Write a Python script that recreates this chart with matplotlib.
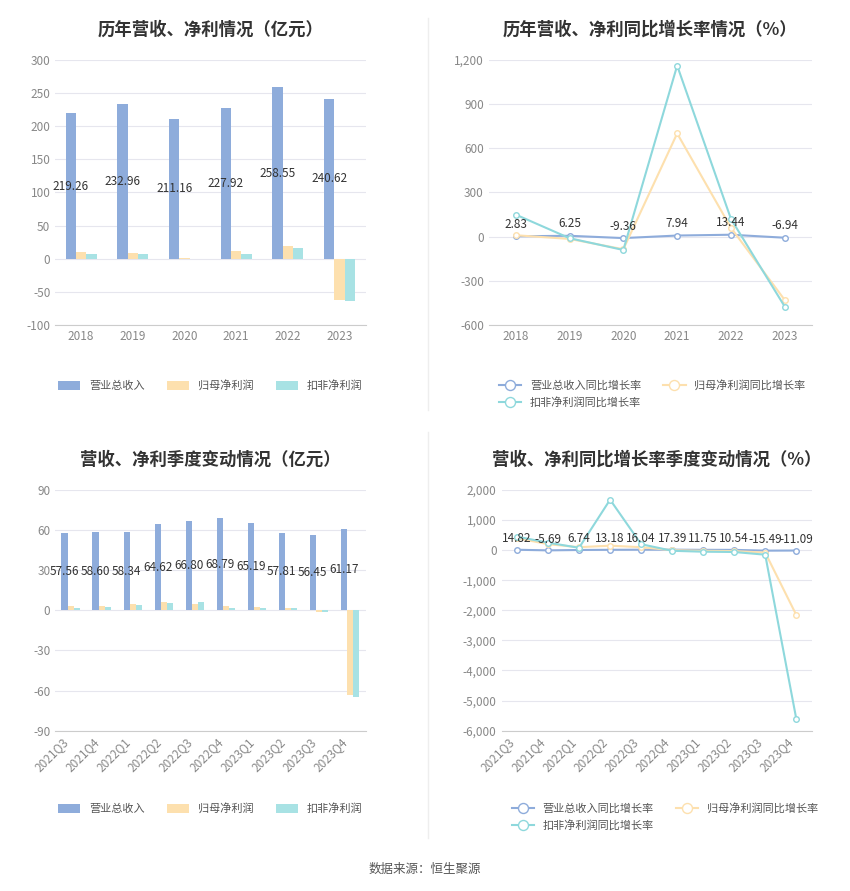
import matplotlib
matplotlib.use("Agg")
import matplotlib.pyplot as plt
from matplotlib.ticker import FuncFormatter

plt.rcParams['font.family'] = ['Noto Sans CJK SC', 'DejaVu Sans']
plt.rcParams['axes.unicode_minus'] = False

years = ["2018", "2019", "2020", "2021", "2022", "2023"]
rev = [219.26, 232.96, 211.16, 227.92, 258.55, 240.62]
net = [10.5, 8.5, 1.2, 12.0, 19.0, -62.0]
deduct = [7.0, 7.0, 0.5, 7.0, 17.0, -64.0]

rev_g = [2.83, 6.25, -9.36, 7.94, 13.44, -6.94]
net_g = [10, -15, -85, 700, 60, -430]
deduct_g = [150, -10, -90, 1160, 120, -475]

quarters = ["2021Q3", "2021Q4", "2022Q1", "2022Q2", "2022Q3", "2022Q4",
            "2023Q1", "2023Q2", "2023Q3", "2023Q4"]
q_rev = [57.56, 58.60, 58.34, 64.62, 66.80, 68.79, 65.19, 57.81, 56.45, 61.17]
q_net = [3.0, 3.5, 4.5, 6.5, 5.0, 3.0, 2.5, 2.0, -1.0, -63.0]
q_deduct = [2.0, 2.5, 4.0, 5.5, 6.5, 2.0, 2.0, 2.0, -1.5, -65.0]

q_rev_g = [14.82, -5.69, 6.74, 13.18, 16.04, 17.39, 11.75, 10.54, -15.49, -11.09]
q_net_g = [400, 200, 100, 150, 100, 0, -20, -30, -80, -2150]
q_deduct_g = [450, 250, 80, 1680, 200, -20, -50, -60, -150, -5600]

C1, C2, C3 = "#8eacdb", "#fde0ae", "#a8e2e4"
L1, L2, L3 = "#8eacdb", "#fde0ae", "#8ed8dc"
TXT = "#333333"
GRID = "#e6e6ee"

fig = plt.figure(figsize=(8.5, 8.91), dpi=100)


def style(ax):
    for s in ax.spines.values():
        s.set_visible(False)
    ax.spines['bottom'].set_visible(True)
    ax.spines['bottom'].set_color("#cccccc")
    ax.grid(axis='y', color=GRID, lw=0.8)
    ax.set_axisbelow(True)
    ax.tick_params(length=0, colors="#888888", labelsize=8.5)


def bars(rect, cats, a, b, c, ylim, yt, title, rot):
    ax = fig.add_axes(rect)
    style(ax)
    x = range(len(cats))
    w = 0.2
    ax.bar([i - w for i in x], a, w, color=C1, label="营业总收入")
    ax.bar(list(x), b, w, color=C2, label="归母净利润")
    ax.bar([i + w for i in x], c, w, color=C3, label="扣非净利润")
    for i, v in enumerate(a):
        ax.text(i - w, v / 2, "%.2f" % v, ha='center', va='center', fontsize=8.5, color=TXT)
    ax.set_xticks(list(x))
    ax.set_xticklabels(cats, rotation=rot, ha='right' if rot else 'center')
    ax.set_ylim(*ylim)
    ax.set_yticks(yt)
    ax.set_xlim(-0.5, len(cats) - 0.5)
    ax.set_title(title, fontsize=12.5, fontweight='bold', color=TXT, pad=18)
    ax.legend(loc='upper center', bbox_to_anchor=(0.5, -0.17 if not rot else -0.26), ncol=3,
              frameon=False, fontsize=8, handlelength=2, handleheight=0.9,
              labelcolor="#555555")
    return ax


def lines(rect, cats, a, b, c, ylim, yt, title, rot):
    ax = fig.add_axes(rect)
    style(ax)
    x = list(range(len(cats)))
    h1, = ax.plot(x, a, color=L1, lw=1.5, marker='o', ms=4, mfc='white', label="营业总收入同比增长率")
    h2, = ax.plot(x, b, color=L2, lw=1.5, marker='o', ms=4, mfc='white', label="归母净利润同比增长率")
    h3, = ax.plot(x, c, color=L3, lw=1.5, marker='o', ms=4, mfc='white', label="扣非净利润同比增长率")
    for i, v in enumerate(a):
        ax.text(i, v + (ylim[1] - ylim[0]) * 0.02, "%.2f" % v, ha='center', va='bottom',
                fontsize=8.5, color=TXT)
    ax.set_xticks(x)
    ax.set_xticklabels(cats, rotation=rot, ha='right' if rot else 'center')
    ax.set_ylim(*ylim)
    ax.set_yticks(yt)
    ax.yaxis.set_major_formatter(FuncFormatter(lambda v, p: "{:,.0f}".format(v)))
    ax.set_xlim(-0.5, len(cats) - 0.5)
    ax.set_title(title, fontsize=12.5, fontweight='bold', color=TXT, pad=18)
    # column-wise fill: put 扣非 under 营业
    ax.legend([h1, h3, h2], [h1.get_label(), h3.get_label(), h2.get_label()],
              loc='upper left', bbox_to_anchor=(0.0, -0.17 if not rot else -0.26), ncol=2,
              frameon=False, fontsize=8, labelcolor="#555555", markerscale=1.8)
    return ax


bars([0.065, 0.635, 0.365, 0.298], years, rev, net, deduct, (-100, 300),
     range(-100, 301, 50), "历年营收、净利情况（亿元）", 0)
lines([0.575, 0.635, 0.38, 0.298], years, rev_g, net_g, deduct_g, (-600, 1200),
      range(-600, 1201, 300), "历年营收、净利同比增长率情况（%）", 0)
bars([0.065, 0.18, 0.365, 0.27], quarters, q_rev, q_net, q_deduct, (-90, 90),
     range(-90, 91, 30), "营收、净利季度变动情况（亿元）", 45)
lines([0.59, 0.18, 0.365, 0.27], quarters, q_rev_g, q_net_g, q_deduct_g, (-6000, 2000),
      range(-6000, 2001, 1000), "营收、净利同比增长率季度变动情况（%）", 45)

fig.add_artist(plt.Line2D([0.503, 0.503], [0.54, 0.98], color="#eeeeee", lw=1))
fig.add_artist(plt.Line2D([0.503, 0.503], [0.06, 0.515], color="#eeeeee", lw=1))
fig.text(0.5, 0.02, "数据来源：恒生聚源", ha='center', fontsize=9, color="#555555")

fig.savefig("out.png", dpi=100)
